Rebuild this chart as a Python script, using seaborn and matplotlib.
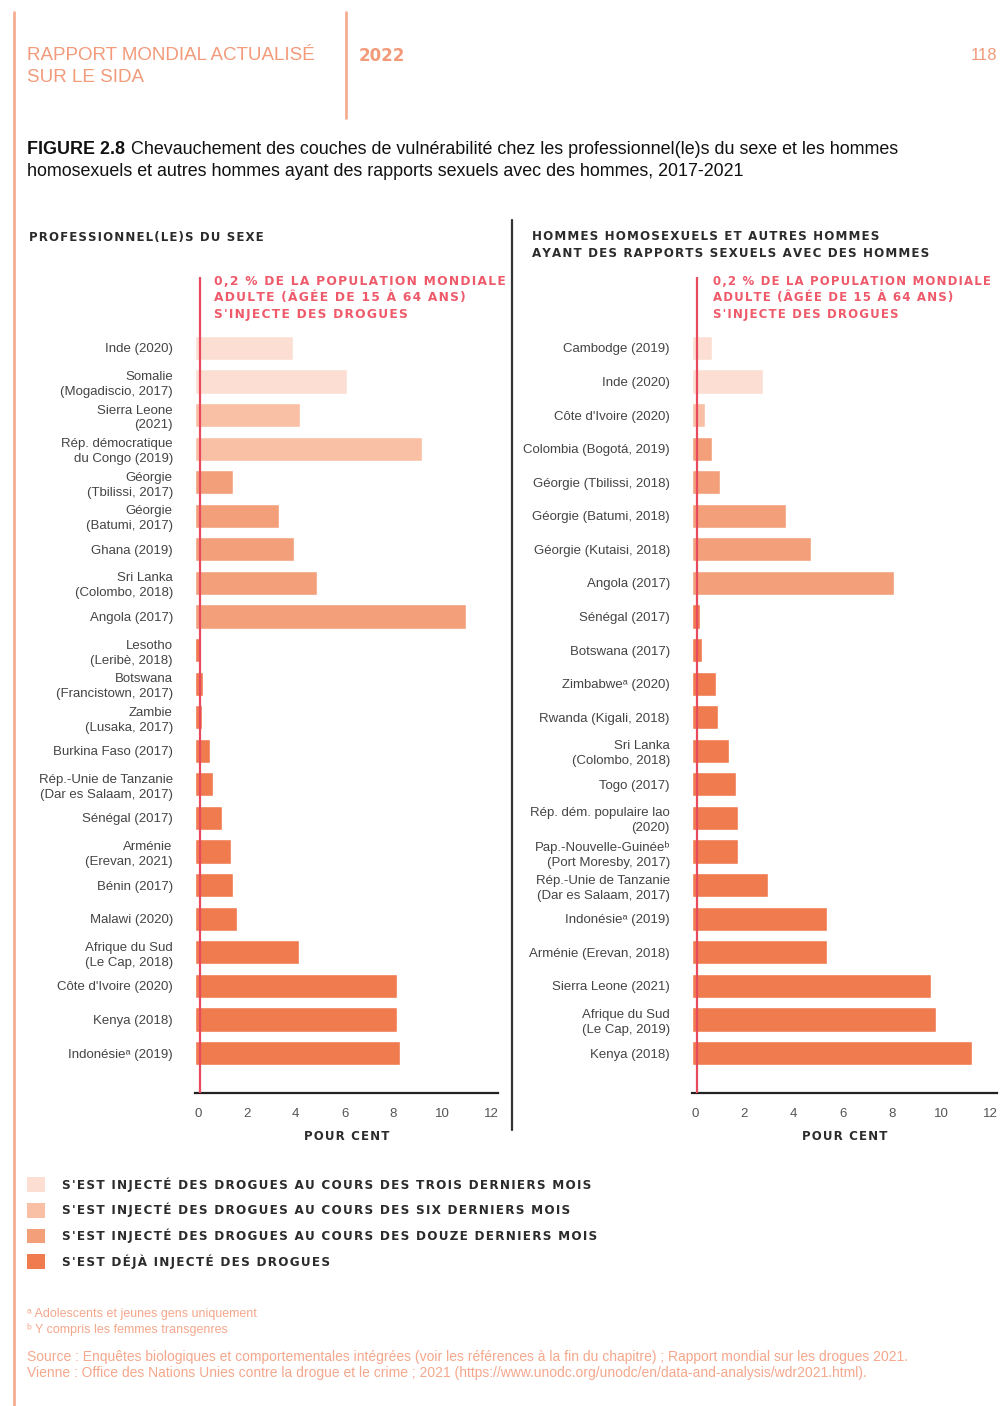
import pandas as pd
import seaborn as sns
import matplotlib.pyplot as plt
from matplotlib import font_manager
from matplotlib.lines import Line2D
from matplotlib.patches import Patch
from matplotlib.transforms import ScaledTranslation

# --- data -------------------------------------------------------------
periods = ["3 mois", "6 mois", "12 mois", "deja"]
legend_labels = [
    "S'EST INJECTÉ DES DROGUES AU COURS DES TROIS DERNIERS MOIS",
    "S'EST INJECTÉ DES DROGUES AU COURS DES SIX DERNIERS MOIS",
    "S'EST INJECTÉ DES DROGUES AU COURS DES DOUZE DERNIERS MOIS",
    "S'EST DÉJÀ INJECTÉ DES DROGUES",
]
colors = ["#FCDFD2", "#F9C0A5", "#F3A07A", "#EF7B4F"]

sw_labels = [
    "Inde (2020)", "Somalie\n(Mogadiscio, 2017)", "Sierra Leone\n(2021)",
    "Rép. démocratique\ndu Congo (2019)", "Géorgie\n(Tbilissi, 2017)",
    "Géorgie\n(Batumi, 2017)", "Ghana (2019)", "Sri Lanka\n(Colombo, 2018)",
    "Angola (2017)", "Lesotho\n(Leribè, 2018)", "Botswana\n(Francistown, 2017)",
    "Zambie\n(Lusaka, 2017)", "Burkina Faso (2017)",
    "Rép.-Unie de Tanzanie\n(Dar es Salaam, 2017)", "Sénégal (2017)",
    "Arménie\n(Erevan, 2021)", "Bénin (2017)", "Malawi (2020)",
    "Afrique du Sud\n(Le Cap, 2018)", "Côte d'Ivoire (2020)", "Kenya (2018)",
    "Indonésieᵃ (2019)",
]
sw_values = [4.0, 6.2, 4.3, 9.3, 1.55, 3.45, 4.05, 5.0, 11.1, 0.2, 0.33,
             0.3, 0.6, 0.75, 1.1, 1.48, 1.55, 1.7, 4.25, 8.25, 8.25, 8.4]
sw_period = ["3 mois"] * 2 + ["6 mois"] * 2 + ["12 mois"] * 5 + ["deja"] * 13

msm_labels = [
    "Cambodge (2019)", "Inde (2020)", "Côte d'Ivoire (2020)",
    "Colombia (Bogotá, 2019)", "Géorgie (Tbilissi, 2018)",
    "Géorgie (Batumi, 2018)", "Géorgie (Kutaisi, 2018)", "Angola (2017)",
    "Sénégal (2017)", "Botswana (2017)", "Zimbabweᵃ (2020)",
    "Rwanda (Kigali, 2018)", "Sri Lanka\n(Colombo, 2018)", "Togo (2017)",
    "Rép. dém. populaire lao\n(2020)", "Pap.-Nouvelle-Guinéeᵇ\n(Port Moresby, 2017)",
    "Rép.-Unie de Tanzanie\n(Dar es Salaam, 2017)", "Indonésieᵃ (2019)",
    "Arménie (Erevan, 2018)", "Sierra Leone (2021)",
    "Afrique du Sud\n(Le Cap, 2019)", "Kenya (2018)",
]
msm_values = [0.83, 2.87, 0.53, 0.83, 1.13, 3.82, 4.84, 8.2, 0.33, 0.4, 0.98,
              1.06, 1.5, 1.8, 1.87, 1.87, 3.1, 5.5, 5.5, 9.73, 9.93, 11.4]
msm_period = ["3 mois"] * 2 + ["6 mois"] + ["12 mois"] * 5 + ["deja"] * 14

ref_level = 0.2
xticks = [0, 2, 4, 6, 8, 10, 12]

# --- style ------------------------------------------------------------
sns.set_style("white")
avail = {f.name for f in font_manager.fontManager.ttflist}
narrow = "Liberation Sans Narrow" if "Liberation Sans Narrow" in avail else "Liberation Sans"
plt.rcParams["font.family"] = [narrow, "DejaVu Sans"]
BOLD = ["DejaVu Sans"]

palette = dict(zip(periods, colors))
red = "#E94B5E"
salmon = "#F29A7A"
dark = "#2B2B2B"

fig = plt.figure(figsize=(10, 14.06), dpi=100)


def fx(px):
    return px / 1000


def fy(py):
    return 1 - py / 1406


def sp(s):
    # fake letter spacing for the wide bold captions
    return "\n".join("\u200a".join(line) for line in s.split("\n"))


def panel(rect, labels, values, period):
    ax = fig.add_axes(rect)
    df = pd.DataFrame({"label": labels, "value": values, "period": period})
    sns.barplot(data=df, y="label", x="value", hue="period", palette=palette,
                dodge=False, orient="h", width=0.72, saturation=1,
                legend=False, ax=ax)
    ax.axvline(ref_level, color=red, lw=1.6, zorder=5)
    ax.set_xlim(0, 12.4)
    ax.set_ylim(22.19, -2.11)
    ax.set_xticks(xticks)
    sns.despine(ax=ax, left=True)
    ax.spines["bottom"].set_color("#222")
    ax.spines["bottom"].set_linewidth(1.6)
    ax.tick_params(axis="x", length=0, pad=11, labelsize=9.5, labelcolor="#555")
    ax.tick_params(axis="y", length=0, pad=16, labelsize=9.5, labelcolor="#444")
    shift = ScaledTranslation(3 / 100, 0, fig.dpi_scale_trans)
    for t in ax.get_xticklabels():
        t.set_transform(t.get_transform() + shift)
    for t in ax.get_yticklabels():
        t.set_linespacing(1.33)
    ax.set_ylabel("")
    ax.set_xlabel(sp("POUR CENT"), family=BOLD, weight="bold", fontsize=8.5,
                  color=dark, labelpad=7)
    return ax


ax1 = panel([0.195, fy(1093), 0.303, 816 / 1406], sw_labels, sw_values, sw_period)
ax2 = panel([0.692, fy(1093), 0.305, 816 / 1406], msm_labels, msm_values, msm_period)

# --- header & decorations ----------------------------------------------
fig.add_artist(Line2D([fx(14), fx(14)], [fy(12), 0], color="#F6AC92", lw=2))
fig.add_artist(Line2D([fx(346), fx(346)], [fy(12), fy(118)], color="#F6AC92", lw=2))
fig.add_artist(Line2D([fx(512), fx(512)], [fy(220), fy(1130)], color="#333", lw=1.6))

fig.text(fx(27), fy(66.5), "RAPPORT MONDIAL ACTUALISÉ\nSUR LE SIDA", color=salmon,
         fontsize=13.5, va="center", linespacing=1.32, family=["Liberation Sans"])
fig.text(fx(359), fy(56), "2022", color=salmon, fontsize=12, weight="bold",
         va="center", family=BOLD)
fig.text(fx(997), fy(56), "118", color=salmon, fontsize=12, ha="right", va="center",
         family=["Liberation Sans"])

t = fig.text(fx(27), fy(149), "FIGURE 2.8", fontsize=12.9, weight="bold",
             va="center", color="#111", family=["Liberation Sans"])
ax1.annotate("Chevauchement des couches de vulnérabilité chez les professionnel(le)s du sexe et les hommes",
             xy=(1, 0.5), xycoords=t, xytext=(4, 0), textcoords="offset points",
             va="center", fontsize=12.9, color="#111", family=["Liberation Sans"],
             annotation_clip=False)
fig.text(fx(27), fy(172), "homosexuels et autres hommes ayant des rapports sexuels avec des hommes, 2017-2021",
         fontsize=12.9, va="center", color="#111", family=["Liberation Sans"])

fig.text(fx(29), fy(237), sp("PROFESSIONNEL(LE)S DU SEXE"), family=BOLD,
         weight="bold", fontsize=8.5, va="center", color=dark)
fig.text(fx(532), fy(245), sp("HOMMES HOMOSEXUELS ET AUTRES HOMMES\nAYANT DES RAPPORTS SEXUELS AVEC DES HOMMES"),
         family=BOLD, weight="bold", fontsize=8.6, va="center", color=dark,
         linespacing=1.35)

note = "0,2 % DE LA POPULATION MONDIALE\nADULTE (ÂGÉE DE 15 À 64 ANS)\nS'INJECTE DES DROGUES"
for x0, size in ((214, 8.8), (713, 8.5)):
    fig.text(fx(x0), fy(298), sp(note), family=BOLD, weight="bold", fontsize=size,
             va="center", color="#EE5A6A", linespacing=1.33)

# --- legend -------------------------------------------------------------
handles = [Patch(facecolor=c, edgecolor="none") for c in colors]
fig.legend(handles, [sp(s) for s in legend_labels], loc="upper left",
           bbox_to_anchor=(fx(27), fy(1177)), frameon=False, borderpad=0,
           borderaxespad=0, handlelength=1.5, handleheight=1.5,
           handletextpad=1.45, labelspacing=0.9,
           prop={"family": BOLD, "weight": "bold", "size": 8.65},
           labelcolor=dark)

foot = "#F5A78C"
fig.text(fx(27), fy(1314), "ᵃ Adolescents et jeunes gens uniquement", fontsize=9,
         color=foot, va="center")
fig.text(fx(27), fy(1330), "ᵇ Y compris les femmes transgenres", fontsize=9,
         color=foot, va="center")
fig.text(fx(27), fy(1365),
         "Source : Enquêtes biologiques et comportementales intégrées (voir les références à la fin du chapitre) ; Rapport mondial sur les drogues 2021.\n"
         "Vienne : Office des Nations Unies contre la drogue et le crime ; 2021 (https://www.unodc.org/unodc/en/data-and-analysis/wdr2021.html).",
         fontsize=10, color=foot, va="center", linespacing=1.15)

fig.savefig("out.png", dpi=100)
